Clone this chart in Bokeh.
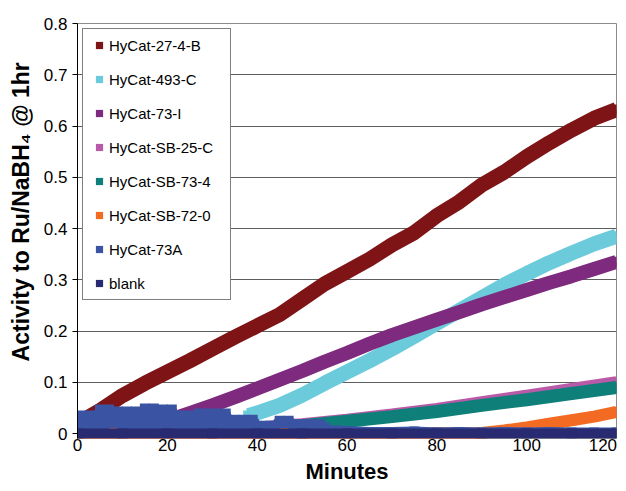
from bokeh.plotting import figure
from bokeh.models import Legend, LegendItem, FixedTicker, Range1d
from bokeh.embed import file_html
from bokeh.resources import INLINE

FONT = "Liberation Sans"
NBSP = "\u00a0"

# ---- axes ----
x_ticks = [0, 20, 40, 60, 80, 100, 120]
x_tick_labels = ["0", "20", "40", "60", "80", "100", "120"]
y_ticks = [0, 0.1, 0.2, 0.3, 0.4, 0.5, 0.6, 0.7, 0.8]
y_tick_labels = ["0", "0.1", "0.2", "0.3", "0.4", "0.5", "0.6", "0.7", "0.8"]
x_title = "Minutes"
y_title = "Activity to Ru/NaBH\u2084 @ 1hr"

# ---- series ----
names = ["HyCat-27-4-B", "HyCat-493-C", "HyCat-73-I", "HyCat-SB-25-C",
         "HyCat-SB-73-4", "HyCat-SB-72-0", "HyCat-73A", "blank"]
colors = ["#7f1416", "#6ccbdb", "#7e2a7e", "#b95aa8",
          "#0f7f7a", "#f36b22", "#3a54a3", "#282a72"]

t_red = [0, 2, 5, 10, 15, 20, 25, 30, 35, 40, 45, 50, 55, 60, 65, 70, 75, 80,
         85, 90, 95, 100, 105, 110, 115, 120]
v_red = [0.005, 0.03, 0.045, 0.074, 0.098, 0.12, 0.142, 0.165, 0.188, 0.21,
         0.232, 0.262, 0.292, 0.316, 0.34, 0.368, 0.392, 0.425, 0.452, 0.485,
         0.51, 0.54, 0.567, 0.592, 0.615, 0.632]

t_cyan = [38, 40, 45, 50, 55, 60, 65, 70, 75, 80, 85, 90, 95, 100, 105, 110,
          115, 120]
v_cyan = [0.035, 0.04, 0.055, 0.075, 0.098, 0.12, 0.142, 0.165, 0.19, 0.215,
          0.24, 0.265, 0.29, 0.312, 0.333, 0.352, 0.37, 0.385]

t_purple = [15, 20, 25, 30, 35, 40, 45, 50, 55, 60, 65, 70, 75, 80, 85, 90,
            95, 100, 105, 110, 115, 120]
v_purple = [0.012, 0.025, 0.04, 0.055, 0.071, 0.088, 0.105, 0.122, 0.14,
            0.157, 0.175, 0.192, 0.207, 0.222, 0.237, 0.252, 0.266, 0.28,
            0.294, 0.307, 0.321, 0.335]

t_pink = [0, 10, 20, 30, 40, 50, 60, 70, 80, 90, 100, 110, 120]
v_pink = [0.0, 0.012, 0.012, 0.01, 0.012, 0.018, 0.027, 0.037, 0.048, 0.061,
          0.074, 0.087, 0.1]

t_teal = [0, 5, 10, 20, 30, 40, 50, 60, 70, 80, 90, 100, 110, 120]
v_teal = [0.0, 0.008, 0.012, 0.012, 0.01, 0.01, 0.015, 0.024, 0.033, 0.043,
          0.055, 0.066, 0.078, 0.09]

t_orange = [0, 30, 60, 90, 95, 100, 105, 110, 115, 120]
v_orange = [0.0, 0.0, 0.0, 0.001, 0.006, 0.012, 0.019, 0.026, 0.033, 0.042]

t_blue = [0, 1, 2, 3, 4, 5, 6, 7, 8, 9, 10, 11, 12, 13, 14, 15, 16, 17, 18,
          19, 20, 21, 22, 23, 24, 25, 26, 27, 28, 29, 30, 31, 32, 33, 34, 35,
          36, 37, 38, 39, 40, 41, 42, 43, 44, 45, 46, 47, 48, 49, 50, 51, 52,
          53, 54, 55, 56, 57, 58, 59, 60, 65, 70, 75, 80, 85, 90, 95, 100,
          105, 110, 115, 120]
v_blue = [0.018, 0.035, 0.012, 0.035, 0.015, 0.047, 0.014, 0.047, 0.02, 0.043,
          0.013, 0.043, 0.018, 0.043, 0.012, 0.049, 0.016, 0.049, 0.013,
          0.047, 0.015, 0.047, 0.012, 0.035, 0.014, 0.035, 0.012, 0.039,
          0.015, 0.039, 0.012, 0.039, 0.014, 0.039, 0.012, 0.027, 0.013,
          0.027, 0.012, 0.027, 0.015, 0.012, 0.015, 0.014, 0.015, 0.025, 0.02,
          0.025, 0.018, 0.016, 0.018, 0.015, 0.018, 0.016, 0.018, 0.012,
          0.006, 0.005, 0.006, 0.004, 0.005, 0.003, 0.003, 0.004, 0.002,
          0.003, 0.002, 0.003, 0.002, 0.003, 0.002, 0.002, 0.002]

t_blank = [0, 10, 20, 30, 40, 50, 60, 70, 80, 90, 100, 110, 120]
v_blank = [0.0, 0.0, 0.0, 0.0, 0.0, 0.0, 0.0, 0.0, 0.0, 0.0, 0.0, 0.0, 0.0]

series_t = [t_red, t_cyan, t_purple, t_pink, t_teal, t_orange, t_blue, t_blank]
series_v = [v_red, v_cyan, v_purple, v_pink, v_teal, v_orange, v_blue, v_blank]
band_widths = [15, 15, 14, 12, 13, 12, 10, 10]

p = figure(frame_width=539, frame_height=415,
           x_range=Range1d(0, 120), y_range=Range1d(-0.0097, 0.8),
           output_backend="svg", toolbar_location=None,
           min_border_left=77, min_border_right=10,
           min_border_top=23, min_border_bottom=45,
           background_fill_color="white", border_fill_color="white")

p.outline_line_color = "#8c8c8c"
p.xgrid.grid_line_color = None
p.ygrid.grid_line_color = "#5e5e5e"
p.ygrid.grid_line_width = 1

p.yaxis.ticker = FixedTicker(ticks=y_ticks)
p.yaxis.major_label_overrides = {t: s for t, s in zip(y_ticks, y_tick_labels)}
p.yaxis.axis_line_color = "black"
p.yaxis.major_tick_line_color = "black"
p.yaxis.major_tick_out = 5
p.yaxis.major_tick_in = 0
p.yaxis.minor_tick_line_color = None
p.yaxis.major_label_standoff = 5
p.yaxis.major_label_text_font = FONT
p.yaxis.major_label_text_font_size = "17px"
p.yaxis.major_label_text_color = "black"
p.yaxis.axis_label = NBSP * 6 + y_title
p.yaxis.axis_label_text_font = FONT
p.yaxis.axis_label_text_font_style = "bold"
p.yaxis.axis_label_text_font_size = "23px"
p.yaxis.axis_label_text_color = "black"
p.yaxis.axis_label_standoff = 7

x_over = {t: s for t, s in zip(x_ticks, x_tick_labels)}
x_over[x_ticks[-1]] = x_tick_labels[-1] + NBSP * 2
p.xaxis.ticker = FixedTicker(ticks=x_ticks)
p.xaxis.major_label_overrides = x_over
p.xaxis.axis_line_color = None
p.xaxis.major_tick_line_color = None
p.xaxis.major_tick_out = 0
p.xaxis.major_tick_in = 0
p.xaxis.minor_tick_line_color = None
p.xaxis.major_label_standoff = -3
p.xaxis.major_label_text_font = FONT
p.xaxis.major_label_text_font_size = "17px"
p.xaxis.major_label_text_color = "black"
p.xaxis.axis_label = x_title
p.xaxis.axis_label_text_font = FONT
p.xaxis.axis_label_text_font_style = "bold"
p.xaxis.axis_label_text_font_size = "22px"
p.xaxis.axis_label_text_color = "black"
p.xaxis.axis_label_standoff = 1

items = []
for name, col, ts, vs, w in zip(names, colors, series_t, series_v, band_widths):
    p.line(ts, vs, line_color=col, line_width=w)
    r = p.scatter(ts, vs, marker="square", size=10, fill_color=col,
                  line_color=col, line_width=0)
    items.append(LegendItem(label=name, renderers=[r]))

legend = Legend(items=items, location="top_left", margin=5, padding=7,
                spacing=16, label_height=18, glyph_height=18, glyph_width=18,
                label_standoff=1, label_width=114,
                label_text_font=FONT, label_text_font_size="15px",
                label_text_color="black",
                border_line_color="black", border_line_width=1,
                background_fill_color="white", background_fill_alpha=1.0)
p.add_layout(legend)

open("out.html", "w").write(file_html(p, INLINE))
